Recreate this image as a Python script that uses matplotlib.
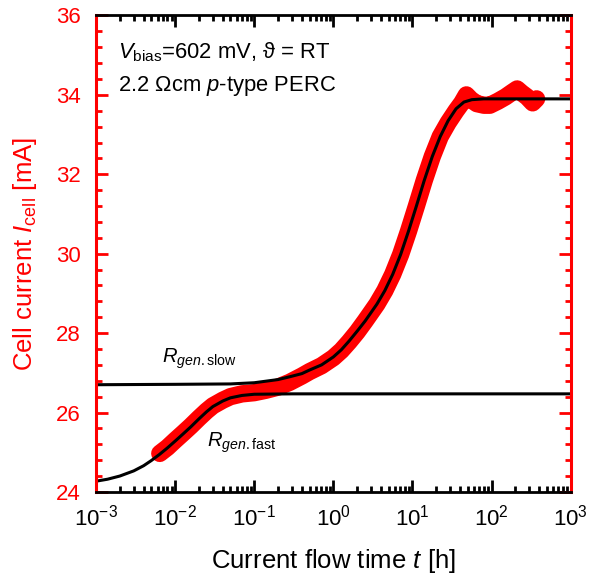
import matplotlib
matplotlib.use('Agg')
import matplotlib.pyplot as plt
from matplotlib.ticker import MultipleLocator, LogLocator, NullFormatter

plt.rcParams['font.family'] = ['Liberation Sans', 'DejaVu Sans']
plt.rcParams['mathtext.fontset'] = 'custom'
plt.rcParams['mathtext.rm'] = 'Liberation Sans'
plt.rcParams['mathtext.it'] = 'Liberation Sans:italic'
plt.rcParams['mathtext.bf'] = 'Liberation Sans:bold'

t_data = [0.0064, 0.008, 0.01, 0.0126, 0.0158, 0.02, 0.025, 0.03, 0.04, 0.05, 0.07,
          0.1, 0.14, 0.2, 0.28, 0.4, 0.5, 0.71, 1.0, 1.26, 1.58, 2.0, 2.51, 2.88,
          3.55, 4.47, 5.62, 7.08, 8.91, 11.2, 14.1, 17.8, 22.4, 28.2, 35.5, 42, 48,
          55, 65, 80, 95, 120, 150, 180, 210, 240, 280, 330, 370]
i_data = [24.97, 25.12, 25.3, 25.48, 25.66, 25.86, 26.04, 26.17, 26.31, 26.4, 26.47,
          26.5, 26.56, 26.64, 26.76, 26.92, 27.03, 27.18, 27.38, 27.56, 27.78, 28.03,
          28.3, 28.47, 28.73, 29.07, 29.48, 29.98, 30.57, 31.2, 31.85, 32.45, 32.95,
          33.3, 33.6, 33.8, 34.0, 33.88, 33.78, 33.74, 33.74, 33.84, 33.95, 34.06,
          34.15, 34.05, 33.95, 33.8, 33.9]

# fit: fast component
t_fast = [0.001, 0.0014, 0.002, 0.003, 0.004, 0.005, 0.0063, 0.0079, 0.01, 0.0126,
          0.0158, 0.02, 0.025, 0.03, 0.04, 0.05, 0.07, 0.1, 0.3, 1000]
i_fast = [24.27, 24.32, 24.40, 24.53, 24.66, 24.79, 24.94, 25.1, 25.28, 25.46,
          25.64, 25.84, 26.02, 26.15, 26.29, 26.37, 26.43, 26.46, 26.47, 26.47]

# fit: slow component
t_slow = [0.001, 0.01, 0.05, 0.1, 0.2, 0.28, 0.4, 0.5, 0.71, 1.0, 1.26, 1.58, 2.0,
          2.51, 2.88, 3.55, 4.47, 5.62, 7.08, 8.91, 11.2, 14.1, 17.8, 22.4, 28.2,
          35.5, 44.7, 56.2, 79.4, 1000]
i_slow = [26.70, 26.71, 26.72, 26.75, 26.83, 26.90, 26.98, 27.07, 27.2, 27.4, 27.58,
          27.8, 28.05, 28.3, 28.47, 28.73, 29.07, 29.48, 29.98, 30.57, 31.2, 31.85,
          32.45, 32.95, 33.35, 33.65, 33.82, 33.88, 33.9, 33.9]

fig = plt.figure(figsize=(5.89, 5.74), dpi=100)
ax = fig.add_axes([0.163, 0.143, 0.806, 0.83])

ax.plot(t_data, i_data, '-', color='red', lw=12.5, solid_capstyle='round',
        solid_joinstyle='round')
ax.plot(t_fast, i_fast, '-', color='black', lw=2.2)
ax.plot(t_slow, i_slow, '-', color='black', lw=2.2)

ax.set_xscale('log')
ax.set_xlim(1e-3, 1e3)
ax.set_ylim(24, 36)
ax.yaxis.set_major_locator(MultipleLocator(2))
ax.yaxis.set_minor_locator(MultipleLocator(0.4))
ax.xaxis.set_major_locator(LogLocator(base=10, numticks=10))
ax.xaxis.set_minor_locator(LogLocator(base=10, subs=range(2, 10), numticks=20))
ax.xaxis.set_minor_formatter(NullFormatter())

for s in ['left', 'right']:
    ax.spines[s].set_color('red')
    ax.spines[s].set_linewidth(2.2)
for s in ['top', 'bottom']:
    ax.spines[s].set_linewidth(2)

ax.tick_params(axis='both', which='both', direction='in', top=True, right=True)
ax.tick_params(axis='y', which='major', length=8.5, width=2, colors='red', labelsize=16, pad=11)
ax.tick_params(axis='y', which='minor', length=4, width=2, colors='red')
ax.tick_params(axis='x', which='major', length=8.5, width=2, labelsize=16, pad=9)
ax.tick_params(axis='x', which='minor', length=4, width=2)

ax.set_xlabel('Current flow time $\\it{t}$ [h]', fontsize=18.5, labelpad=12)
ax.set_ylabel('Cell current $\\it{I}_{\\rm{cell}}$ [mA]', fontsize=18.5, color='red',
              labelpad=12)

ax.text(0.046, 0.924, '$\\it{V}_{\\rm{bias}}$=602 mV, \u03d1 = RT', transform=ax.transAxes,
        fontsize=15.8, va='center', ha='left')
ax.text(0.046, 0.852, '2.2 \u03a9cm $\\it{p}$-type PERC', transform=ax.transAxes,
        fontsize=15.8, va='center', ha='left')
ax.text(0.139, 0.271, '$\\it{R}_{\\it{gen.}\\rm{slow}}$', transform=ax.transAxes,
        fontsize=14.5, va='baseline', ha='left')
ax.text(0.234, 0.0945, '$\\it{R}_{\\it{gen.}\\rm{fast}}$', transform=ax.transAxes,
        fontsize=14.5, va='baseline', ha='left')

fig.savefig('out.png', dpi=100)
